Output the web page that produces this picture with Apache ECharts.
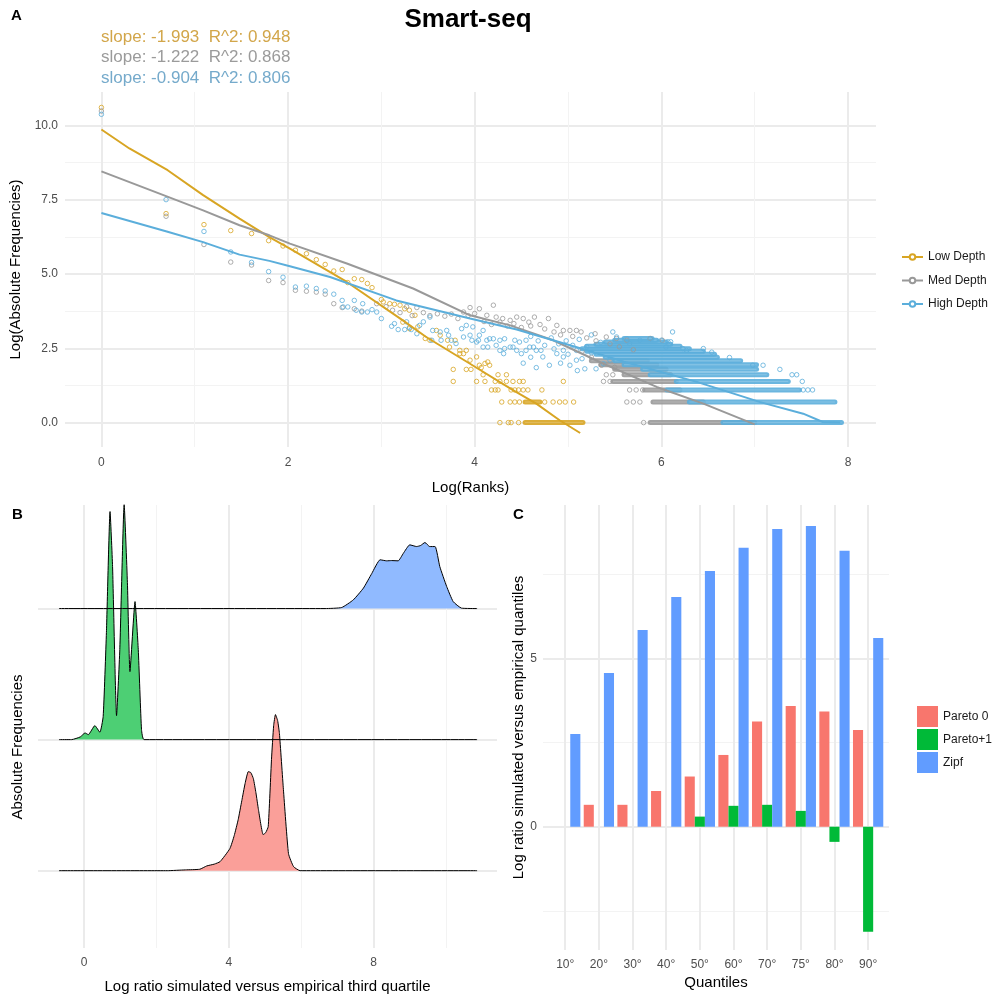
<!DOCTYPE html>
<html>
<head>
<meta charset="utf-8">
<title>Smart-seq</title>
<script src="https://cdn.jsdelivr.net/npm/echarts@6/dist/echarts.min.js"></script>
<style>
  html, body { margin: 0; padding: 0; background: #fff; }
  #main { width: 993px; height: 999px; }
</style>
</head>
<body>
<div id="main"></div>
<script>
// ---------- panel A : log rank vs log frequency ----------
const depthNames = ['Low Depth', 'Med Depth', 'High Depth'];
const slopes = [-1.993, -1.222, -0.904];
const rSquared = [0.948, 0.868, 0.806];

// single points [logRank, logFreq]
const lowPoints = [
  [0, 10.6], [0.693, 7.03], [1.099, 6.66], [1.386, 6.46], [1.609, 6.36], [1.792, 6.12], [1.946, 5.94],
  [2.079, 5.8], [2.197, 5.68], [2.303, 5.48], [2.398, 5.32], [2.49, 5.1], [2.58, 5.15], [2.64, 4.71],
  [2.71, 4.84], [2.79, 4.81], [2.85, 4.68], [2.9, 4.54], [3.0, 4.14], [3.02, 4.06], [3.09, 4.0],
  [3.14, 3.98], [3.2, 3.95], [3.25, 3.83], [3.3, 3.78], [3.36, 3.61], [3.23, 3.38], [3.3, 3.16],
  [3.39, 3.22], [3.47, 2.83], [3.52, 2.77], [3.59, 3.1], [3.63, 2.94], [3.71, 2.77], [3.73, 2.54],
  [3.79, 2.77], [3.84, 2.43], [3.84, 2.32], [3.88, 2.32], [3.91, 2.43], [3.95, 2.1], [4.02, 2.21],
  [4.05, 1.93], [4.11, 1.99], [4.14, 2.04], [4.16, 1.93], [3.77, 1.79], [3.91, 1.79], [3.96, 1.79],
  [4.07, 1.85], [4.09, 1.61], [4.25, 1.61], [4.34, 1.61]
];
// points sitting on the low count levels: [logFreq, [logRanks]]
const lowRowPoints = [
  [1.386, [3.77, 4.02, 4.11, 4.22, 4.27, 4.34, 4.41, 4.48, 4.52, 4.95]],
  [1.099, [4.18, 4.22, 4.25, 4.39, 4.43, 4.47, 4.52, 4.57, 4.72]],
  [0.693, [4.29, 4.38, 4.43, 4.48, 4.75, 4.84, 4.91, 4.97, 5.06]],
  [0, [4.27, 4.36, 4.39, 4.47]]
];
// dense runs of points: [logFreq, fromRank, toRank]
const lowRuns = [[0.693, 4.54, 4.7], [0, 4.54, 5.16]];

const medPoints = [
  [0, 10.48], [0.693, 6.94], [1.099, 5.99], [1.386, 5.4], [1.609, 5.3], [1.792, 4.78], [1.946, 4.71],
  [2.079, 4.45], [2.197, 4.42], [2.303, 4.39], [2.398, 4.32], [2.49, 4.0], [2.58, 3.87], [2.71, 3.83],
  [2.79, 3.75], [2.95, 4.0], [3.05, 3.9], [3.12, 3.78], [3.2, 3.7], [3.27, 3.9], [3.33, 3.6],
  [3.38, 3.87], [3.45, 3.7], [3.52, 3.6], [3.6, 3.66], [3.68, 3.58], [3.75, 3.65], [3.82, 3.5],
  [3.88, 3.72], [3.93, 3.6], [3.95, 3.87], [4.0, 3.67], [4.05, 3.83], [4.2, 3.95], [4.13, 3.61],
  [4.23, 3.55], [4.3, 3.5], [4.38, 3.44], [4.45, 3.55], [4.52, 3.5], [4.64, 3.55], [4.79, 3.5],
  [4.88, 3.27], [4.95, 3.1], [5.02, 3.1], [5.09, 3.1], [5.14, 3.05], [5.29, 2.99], [5.41, 2.88],
  [5.52, 2.83], [5.63, 2.77], [5.88, 2.83], [6.01, 2.77], [4.1, 3.4], [4.18, 3.3], [4.27, 3.38],
  [4.35, 3.25], [4.42, 3.33], [4.5, 3.2], [4.58, 3.38], [4.6, 3.25], [4.7, 3.3], [4.75, 3.15],
  [4.85, 3.05], [4.92, 2.95], [5.05, 2.9], [5.2, 2.85], [5.3, 2.75], [5.45, 2.65], [5.55, 2.55],
  [5.7, 2.45], [5.36, 1.93], [5.5, 1.86], [5.25, 2.2], [5.15, 2.4]
];
const medRowPoints = [
  [1.609, [5.41, 5.48]],
  [1.386, [5.38, 5.45]],
  [1.099, [5.66, 5.73, 5.8]],
  [0.693, [5.63, 5.7, 5.77]],
  [0, [5.81]]
];
const medRuns = [
  [0, 5.88, 7.0], [0.693, 5.91, 6.45], [1.099, 5.82, 6.2], [1.386, 5.48, 6.16],
  [1.609, 5.6, 6.1], [1.792, 5.5, 6.05], [1.946, 5.35, 5.95], [2.079, 5.25, 5.85]
];

const highPoints = [
  [0, 10.37], [0.693, 7.5], [1.099, 6.43], [1.386, 5.74], [1.609, 5.39], [1.792, 5.08], [1.946, 4.89],
  [2.079, 4.56], [2.197, 4.59], [2.303, 4.51], [2.398, 4.43], [2.49, 4.32], [2.58, 4.11], [2.59, 3.89],
  [2.64, 3.89], [2.71, 4.11], [2.73, 3.78], [2.79, 3.72], [2.8, 4.0], [2.85, 3.72], [2.9, 3.8],
  [2.95, 3.72], [3.0, 3.5], [3.11, 3.24], [3.14, 3.33], [3.18, 3.13], [3.25, 3.13], [3.27, 3.39],
  [3.3, 3.2], [3.32, 3.13], [3.38, 2.99], [3.41, 3.27], [3.45, 3.39], [3.52, 3.55], [3.54, 2.77],
  [3.55, 3.1], [3.63, 3.05], [3.64, 2.77], [3.7, 3.1], [3.72, 2.94], [3.75, 2.77], [3.8, 2.66],
  [3.86, 3.16], [3.88, 2.88], [3.91, 3.27], [3.95, 2.94], [3.97, 2.77], [3.98, 3.22], [4.02, 2.71],
  [4.04, 2.77], [4.05, 2.94], [4.09, 3.1], [4.09, 2.54], [4.13, 2.77], [4.14, 2.54], [4.16, 2.82],
  [4.2, 2.82], [4.23, 2.6], [4.27, 2.43], [4.27, 2.77], [4.31, 2.32], [4.32, 2.82], [4.32, 2.49],
  [4.38, 2.54], [4.41, 2.54], [4.43, 2.77], [4.45, 2.43], [4.48, 2.71], [4.5, 2.32], [4.55, 2.43],
  [4.55, 2.77], [4.59, 2.54], [4.63, 2.54], [4.66, 2.43], [4.71, 2.43], [4.73, 2.21], [4.8, 1.93],
  [4.88, 2.32], [4.95, 2.43], [4.95, 2.21], [5.02, 1.93], [5.09, 2.1], [5.09, 2.43], [5.18, 1.81],
  [5.3, 1.81], [5.38, 1.98], [5.45, 2.1], [5.48, 3.05], [5.52, 2.88], [5.63, 2.82], [5.66, 2.66],
  [5.77, 2.77], [5.88, 2.82], [6.0, 2.77], [6.05, 2.54], [4.6, 2.9], [4.68, 2.75], [4.75, 2.6],
  [4.82, 2.85], [4.9, 2.65], [4.98, 2.75], [5.05, 2.6], [5.12, 2.8], [5.2, 2.55], [5.25, 2.95],
  [5.35, 2.7], [4.85, 2.48], [4.92, 2.0], [5.0, 2.3], [5.15, 2.15], [5.25, 2.35], [4.6, 2.2],
  [4.52, 2.0], [4.66, 1.85], [5.1, 1.75], [6.07, 2.72], [6.1, 2.72], [6.12, 3.05], [6.23, 2.49],
  [6.27, 2.43], [6.45, 2.49], [6.54, 2.37], [6.73, 2.19], [6.98, 1.93], [7.09, 1.93], [7.27, 1.79]
];
const highRowPoints = [
  [1.609, [7.4, 7.45]],
  [1.386, [7.51]],
  [1.099, [7.52, 7.57, 7.62]]
];
const highRuns = [
  [0, 6.66, 7.93], [0.693, 6.3, 7.86], [1.099, 6.06, 7.48], [1.386, 6.16, 7.36],
  [1.609, 5.88, 7.13], [1.792, 5.8, 7.02], [1.946, 5.6, 7.02], [2.079, 5.5, 6.85],
  [2.197, 5.4, 6.6], [2.303, 5.3, 6.57], [2.398, 5.2, 6.45], [2.485, 5.15, 6.3],
  [2.565, 5.2, 6.2], [2.639, 5.3, 6.1], [2.708, 5.4, 6.05], [2.773, 5.5, 5.95], [2.833, 5.6, 5.9]
];

// fitted lines as drawn
const lowFit = [[0, 9.86], [0.3, 9.22], [0.71, 8.49], [1.09, 7.65], [1.48, 6.86], [1.8, 6.24], [2.02, 5.85],
  [2.63, 4.73], [3.23, 3.44], [3.48, 2.88], [3.95, 1.98], [4.41, 1.09], [4.66, 0.64], [4.91, 0.08], [5.13, -0.35]];
const medFit = [[0, 8.45], [0.7, 7.61], [1.09, 7.14], [1.48, 6.64], [1.8, 6.3], [2.02, 6.02], [2.63, 5.35],
  [3.34, 4.51], [3.95, 3.61], [4.38, 3.27], [4.84, 2.77], [5.38, 1.98], [5.95, 1.2], [6.45, 0.64], [7.0, -0.06]];
const highFit = [[0, 7.05], [0.7, 6.43], [1.09, 6.07], [1.48, 5.65], [1.8, 5.44], [2.02, 5.26], [2.45, 4.9],
  [3.16, 4.11], [3.95, 3.5], [4.45, 3.13], [5.13, 2.5], [5.6, 2.05], [6.38, 1.37], [7.06, 0.69],
  [7.52, 0.3], [7.73, 0.02], [7.92, 0.0]];

const rankTicks = [0, 2, 4, 6, 8];
const rankMinor = [1, 3, 5, 7];
const freqTicks = [0, 2.5, 5, 7.5, 10];
const freqMinor = [1.25, 3.75, 6.25, 8.75];

// ---------- panel B : ridgelines ----------
const ridgeNames = ['Pareto 0', 'Pareto+1', 'Zipf'];
const pareto0X = [-0.69, 2.3, 2.8, 3.2, 3.39, 3.6, 3.76, 4.03, 4.15, 4.26, 4.36, 4.45, 4.54, 4.61, 4.68,
  4.75, 4.82, 4.95, 5.02, 5.09, 5.18, 5.24, 5.29, 5.35, 5.4, 5.51, 5.65, 5.79, 5.97, 10.86];
const pareto0Dens = [0, 0, 0.006, 0.011, 0.036, 0.05, 0.069, 0.168, 0.267, 0.389, 0.534, 0.664, 0.756, 0.748,
  0.702, 0.595, 0.466, 0.275, 0.29, 0.336, 0.847, 1.107, 1.191, 1.145, 1.046, 0.618, 0.13, 0.031, 0, 0];
const paretoPlus1X = [-0.69, -0.34, -0.1, 0.03, 0.12, 0.3, 0.44, 0.53, 0.62, 0.72, 0.79, 0.9, 0.99, 1.11,
  1.2, 1.27, 1.41, 1.5, 1.59, 1.66, 10.86];
const paretoPlus1Dens = [0, 0, 0.021, 0.051, 0.038, 0.107, 0.056, 0.176, 0.817, 1.74, 1.32, 0.183, 0.687,
  1.794, 1.198, 0.519, 1.053, 0.687, 0.076, 0, 0];
const zipfX = [-0.69, 6.66, 7.12, 7.44, 7.72, 7.95, 8.18, 8.36, 8.5, 8.68, 8.82, 9.0, 9.19, 9.3, 9.42,
  9.55, 9.7, 9.83, 10.02, 10.2, 10.43, 10.86];
const zipfDens = [0, 0, 0.008, 0.066, 0.156, 0.267, 0.372, 0.364, 0.366, 0.364, 0.42, 0.486, 0.473, 0.481,
  0.504, 0.473, 0.473, 0.32, 0.168, 0.053, 0.003, 0];

const ratioTicks = [0, 4, 8];
const ratioMinor = [2, 6, 10];
const ridgeRows = [0, 1, 2];

// ---------- panel C : quantile bars ----------
const quantiles = ['10°', '20°', '30°', '40°', '50°', '60°', '70°', '75°', '80°', '90°'];
const pareto0Bars = [null, 0.65, 0.65, 1.06, 1.49, 2.13, 3.12, 3.58, 3.42, 2.87];
const paretoPlus1Bars = [null, null, null, null, 0.3, 0.62, 0.65, 0.47, -0.45, -3.12];
const zipfBars = [2.75, 4.56, 5.84, 6.82, 7.59, 8.28, 8.84, 8.93, 8.19, 5.6];
const barTicks = [0, 5];
const barMinor = [-2.5, 2.5, 7.5];

// ---------- styles ----------
const depthColors = ['#D8A523', '#999999', '#5BAEDB'];
const slopeTextColors = ['#D2A64A', '#9B9B9B', '#75AACB'];
const ridgeFills = ['#FA9F99', '#4DCF74', '#90BAFF'];
const barColors = ['#F8766D', '#00BA38', '#619CFF'];
const majorLine = { color: '#EBEBEB', width: 2 };
const minorLine = { color: '#F3F3F3', width: 1 };
const font = 'Liberation Sans, Arial, sans-serif';

function flattenRows(rows) {
  const out = [];
  rows.forEach(([y, xs]) => xs.forEach((x) => out.push([x, y])));
  return out;
}

function valueAxis(gridIndex, min, max, ticks, lines, label) {
  return {
    type: 'value', gridIndex, min, max,
    axisLine: { show: false },
    axisTick: { show: false, customValues: ticks },
    axisLabel: label ? Object.assign({ customValues: ticks, color: '#4D4D4D', fontSize: 12 }, label) : { show: false },
    splitLine: { show: true, lineStyle: lines },
    nameTextStyle: { fontSize: 15, color: '#000' },
  };
}

function fitSeries(i, data) {
  return {
    type: 'line', name: depthNames[i], data, xAxisIndex: 0, yAxisIndex: 0,
    symbol: 'emptyCircle', symbolSize: 5, showSymbol: false,
    lineStyle: { color: depthColors[i], width: 2 }, itemStyle: { color: depthColors[i] },
    silent: true, z: 5,
  };
}

function pointSeries(i, data) {
  return {
    type: 'scatter', name: depthNames[i], data, xAxisIndex: 0, yAxisIndex: 0,
    symbol: 'circle', symbolSize: 4.5,
    itemStyle: { color: 'rgba(255,255,255,0)', borderColor: depthColors[i], borderWidth: 1 },
    silent: true, z: 2,
  };
}

// a run of overlapping hollow circles: a band in the colour with a slightly paler core
function runSeries(i, data) {
  return {
    type: 'custom', name: depthNames[i], data, xAxisIndex: 0, yAxisIndex: 0,
    encode: { x: [1, 2], y: 0 }, silent: true, z: 2,
    renderItem: (params, api) => {
      const a = api.coord([api.value(1), api.value(0)]);
      const b = api.coord([api.value(2), api.value(0)]);
      const shape = { x1: a[0], y1: a[1], x2: b[0], y2: b[1] };
      return {
        type: 'group',
        children: [
          { type: 'line', shape, style: { stroke: depthColors[i], lineWidth: 5, lineCap: 'round', opacity: 0.9 } },
          { type: 'line', shape, style: { stroke: '#fff', lineWidth: 1, opacity: 0.2 } },
        ],
      };
    },
  };
}

function ridgeSeries(i, xs, dens) {
  const base = ridgeRows[i];
  return {
    type: 'line', data: xs.map((x, k) => [x, base + dens[k]]), xAxisIndex: 2, yAxisIndex: 2,
    symbol: 'none', smooth: 0.15,
    lineStyle: { color: '#000', width: 1 },
    areaStyle: { color: ridgeFills[i], opacity: 1, origin: base },
    silent: true,
  };
}

function barSeries(i, values) {
  return {
    type: 'bar', name: ridgeNames[i], xAxisIndex: 4, yAxisIndex: 3,
    data: values.map((v, k) => [k, v]).filter((d) => d[1] !== null),
    barGap: '0%', barCategoryGap: '10%',
    itemStyle: { color: barColors[i] }, silent: true,
  };
}

const chart = echarts.init(document.getElementById('main'), null, { renderer: 'canvas' });

const option = {
  animation: false,
  textStyle: { fontFamily: font },
  grid: [
    { left: 65, top: 92, width: 811, height: 355 },
    { left: 38, top: 505, width: 459, height: 443 },
    { left: 543, top: 505, width: 346, height: 445 },
  ],
  xAxis: [
    Object.assign(valueAxis(0, -0.39, 8.3, rankTicks, majorLine, { margin: 10 }),
      { name: 'Log(Ranks)', nameLocation: 'middle', nameGap: 33 }),
    valueAxis(0, -0.39, 8.3, rankMinor, minorLine, null),
    Object.assign(valueAxis(1, -1.27, 11.41, ratioTicks, majorLine, { margin: 9 }),
      { name: 'Log ratio simulated versus empirical third quartile', nameLocation: 'middle', nameGap: 31 }),
    valueAxis(1, -1.27, 11.41, ratioMinor, minorLine, null),
    Object.assign(valueAxis(2, -0.66, 9.62, quantiles.map((q, k) => k), majorLine,
      { margin: 9, formatter: (v) => quantiles[v] }),
      { name: 'Quantiles', nameLocation: 'middle', nameGap: 25 }),
  ],
  yAxis: [
    Object.assign(valueAxis(0, -0.82, 11.12, freqTicks, majorLine, { margin: 7, formatter: (v) => v.toFixed(1) }),
      { name: 'Log(Absolute Frequencies)', nameLocation: 'middle', nameGap: 39 }),
    valueAxis(0, -0.82, 11.12, freqMinor, minorLine, null),
    valueAxis(1, -0.59, 2.79, ridgeRows, majorLine, null),
    Object.assign(valueAxis(2, -3.66, 9.55, barTicks, majorLine, { margin: 6 }),
      { name: 'Log ratio simulated versus empirical quantiles', nameLocation: 'middle', nameGap: 16 }),
    valueAxis(2, -3.66, 9.55, barMinor, minorLine, null),
  ],
  legend: [
    {
      data: depthNames, orient: 'vertical', left: 896, top: 245,
      itemWidth: 21, itemHeight: 7, itemGap: 9.5, selectedMode: false,
      textStyle: { fontSize: 12, color: '#1A1A1A', lineHeight: 14 },
    },
    {
      data: ridgeNames, orient: 'vertical', left: 912, top: 701, icon: 'rect',
      itemWidth: 21, itemHeight: 21, itemGap: 2, selectedMode: false,
      textStyle: { fontSize: 12, color: '#1A1A1A' },
    },
  ],
  graphic: [
    { type: 'text', x: 468, y: 20, style: { text: 'Smart-seq', font: 'bold 26px ' + font, fill: '#000', align: 'center', verticalAlign: 'middle' } },
    { type: 'text', x: 11, y: 16, style: { text: 'A', font: 'bold 15px ' + font, fill: '#000', verticalAlign: 'middle' } },
    { type: 'text', x: 12, y: 515, style: { text: 'B', font: 'bold 15px ' + font, fill: '#000', verticalAlign: 'middle' } },
    { type: 'text', x: 513, y: 515, style: { text: 'C', font: 'bold 15px ' + font, fill: '#000', verticalAlign: 'middle' } },
    { type: 'text', x: 18, y: 747, rotation: Math.PI / 2,
      style: { text: 'Absolute Frequencies', font: '15px ' + font, fill: '#000', align: 'center', verticalAlign: 'middle' } },
  ].concat(slopes.map((s, i) => ({
    type: 'text', x: 101, y: 37 + i * 20.5,
    style: {
      text: 'slope: ' + s.toFixed(3) + '  R^2: ' + rSquared[i].toFixed(3),
      font: '17px ' + font, fill: slopeTextColors[i], verticalAlign: 'middle',
    },
  }))),
  series: [
    fitSeries(0, lowFit),
    fitSeries(1, medFit),
    fitSeries(2, highFit),
    barSeries(0, pareto0Bars),
    barSeries(1, paretoPlus1Bars),
    barSeries(2, zipfBars),
    runSeries(0, lowRuns),
    pointSeries(0, lowPoints.concat(flattenRows(lowRowPoints))),
    runSeries(1, medRuns),
    pointSeries(1, medPoints.concat(flattenRows(medRowPoints))),
    runSeries(2, highRuns),
    pointSeries(2, highPoints.concat(flattenRows(highRowPoints))),
    ridgeSeries(0, pareto0X, pareto0Dens),
    ridgeSeries(1, paretoPlus1X, paretoPlus1Dens),
    ridgeSeries(2, zipfX, zipfDens),
  ],
};

chart.setOption(option);
</script>
</body>
</html>
